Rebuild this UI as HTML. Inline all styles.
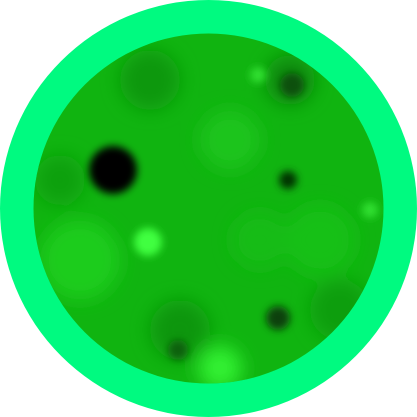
<!DOCTYPE html>
<html><head><meta charset="utf-8"><style>html,body{margin:0;padding:0;background:#fff;width:417px;height:417px;overflow:hidden}</style></head>
<body>
<svg width="417" height="417" viewBox="0 0 417 417">
<defs>
<filter id="b" x="-50%" y="-50%" width="200%" height="200%"><feGaussianBlur stdDeviation="9"/></filter>
<filter id="b2" x="-50%" y="-50%" width="200%" height="200%"><feGaussianBlur stdDeviation="4"/></filter>
<clipPath id="c"><circle cx="208.5" cy="208.5" r="175"/></clipPath>
</defs>
<circle cx="208.5" cy="208.5" r="208.5" fill="#00fa80"/>
<g clip-path="url(#c)">
<rect x="0" y="0" width="417" height="417" fill="#10b410"/>
<g filter="url(#b)">
<circle cx="150" cy="80" r="30" fill="#0c980c"/>
<circle cx="290" cy="80" r="25" fill="#0a8a0a"/>
<circle cx="80" cy="260" r="40" fill="#1ccc1c"/>
<circle cx="320" cy="240" r="35" fill="#18c018"/>
<circle cx="230" cy="140" r="30" fill="#1ac41a"/>
<circle cx="180" cy="330" r="30" fill="#0c960c"/>
<circle cx="340" cy="310" r="30" fill="#0e9e0e"/>
<circle cx="60" cy="180" r="25" fill="#0ea00e"/>
<circle cx="220" cy="368" r="22" fill="#30f030"/>
<circle cx="260" cy="240" r="28" fill="#14bc14"/>
</g>
<g filter="url(#b2)">
<circle cx="113" cy="170" r="24" fill="#000"/>
<circle cx="148" cy="242" r="14" fill="#40ff40"/>
<circle cx="288" cy="180" r="9" fill="#053005"/>
<circle cx="278" cy="318" r="12" fill="#0a400a"/>
<circle cx="292" cy="85" r="12" fill="#0c4f0c"/>
<circle cx="178" cy="350" r="10" fill="#0f600f"/>
<circle cx="258" cy="75" r="8" fill="#30e030"/>
<circle cx="370" cy="210" r="8" fill="#30e030"/>
</g>
</g>
</svg>
</body></html>
